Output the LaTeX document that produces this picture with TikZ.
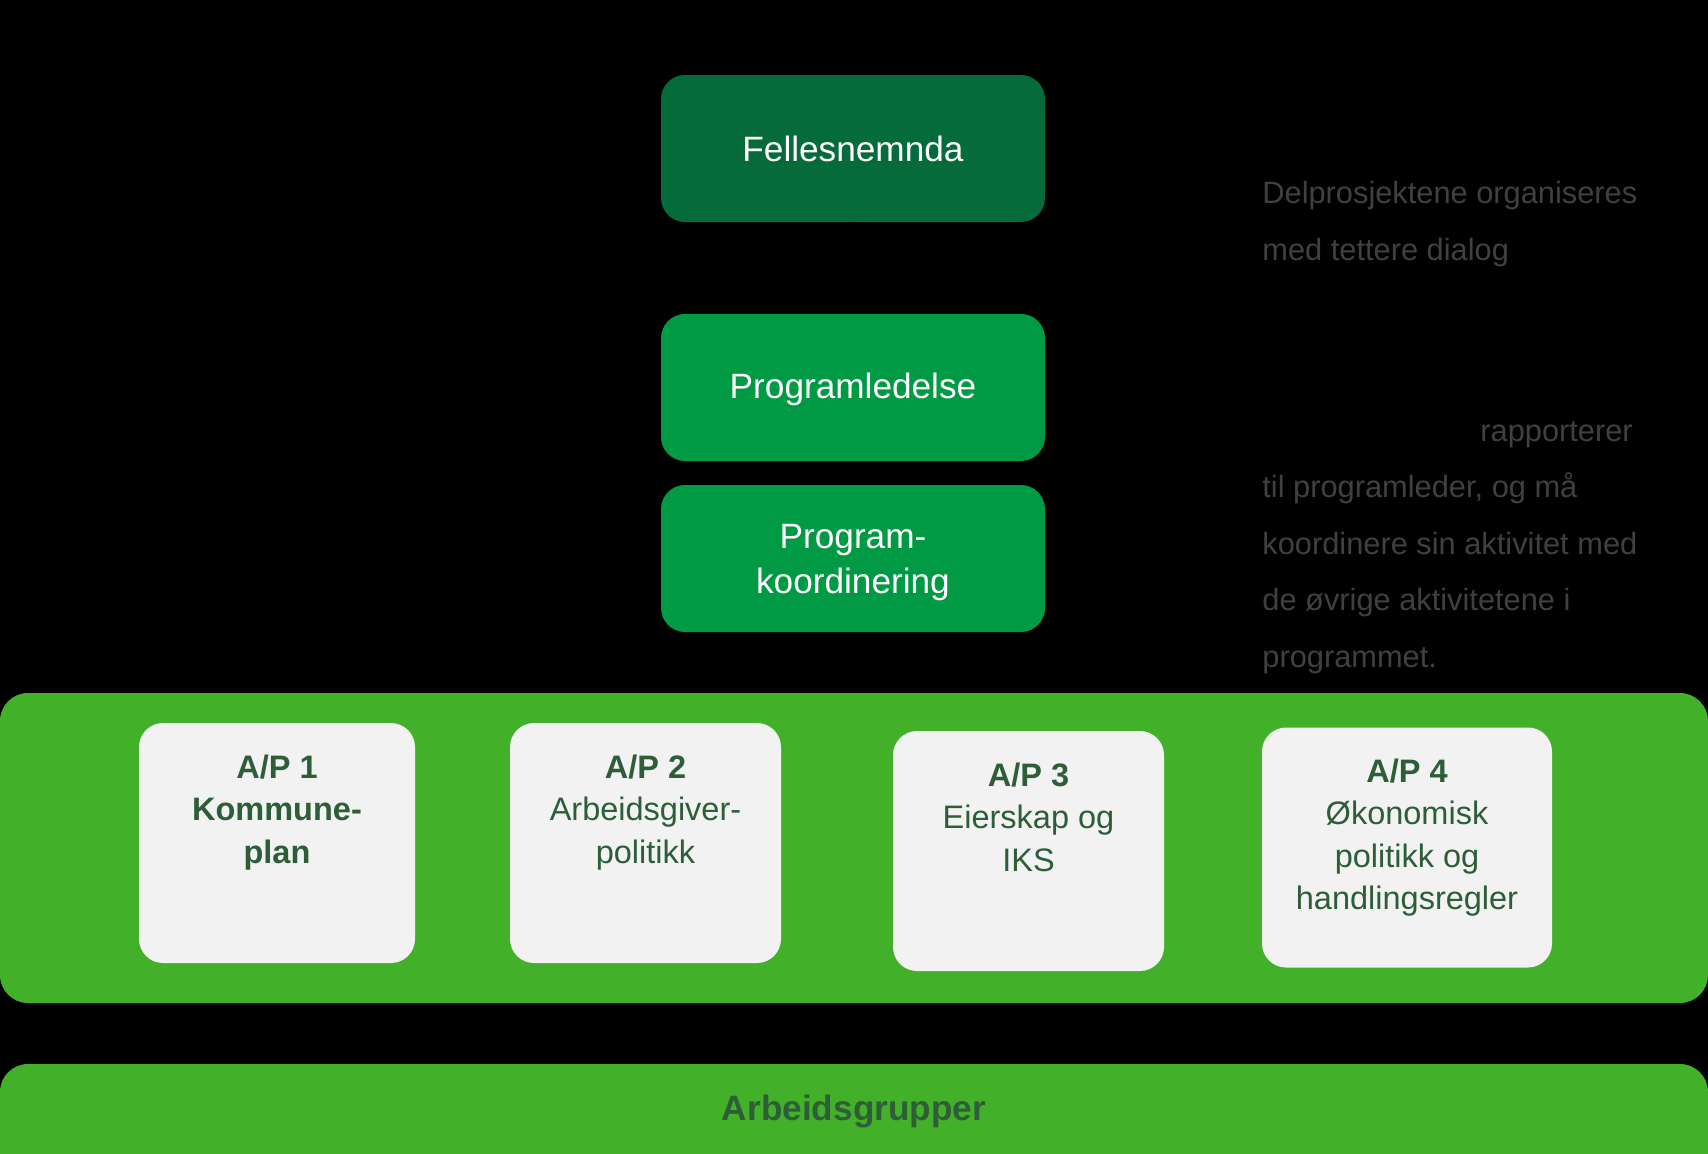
\documentclass[tikz,border=0pt]{standalone}
\usepackage{fontspec}
\setmainfont{Liberation Sans}
\usetikzlibrary{positioning}

\definecolor{boardgreen}{HTML}{056B3A}
\definecolor{leadgreen}{HTML}{009A44}
\definecolor{panelgreen}{HTML}{43B02A}
\definecolor{cardgray}{HTML}{F2F2F2}
\definecolor{cardtext}{HTML}{2D5E38}
\definecolor{notegray}{HTML}{404040}

\begin{document}
\begin{tikzpicture}[x=0.5pt,y=-0.5pt,
  topbox/.style={rounded corners=12pt, minimum width=192pt, minimum height=73.5pt,
    text=white, align=center, font=\fontsize{17.6}{22.4}\selectfont},
  apbox/.style={fill=cardgray, rounded corners=12pt, minimum height=120pt},
  aptext/.style={text=cardtext, align=center, inner sep=0pt,
    font=\fontsize{16.25}{21.25}\selectfont},
  note/.style={text=notegray, align=left, inner sep=0pt, anchor=base west,
    font=\fontsize{15.4}{28.3}\selectfont}]

% Background
\fill[black] (0,0) rectangle (1708,1153);
\clip (0,0) rectangle (1708,1153);

% Top of the organisation
\node[topbox, fill=boardgreen] (felles) at (853,148.5) {Fellesnemnda};
\node[topbox, fill=leadgreen] (ledelse) at (853,387.5) {\\[-7.5pt]Programledelse};
\node[topbox, fill=leadgreen] (koord) at (853,558.5) {\\[-6pt]Program-\\koordinering};

% Lines between the boxes (black on black)
\draw[black, line width=1pt] (felles) -- (ledelse);
\draw[black, line width=1pt] (ledelse) -- (koord);

% Notes on the right (base = last line)
\node[note] (note1) at (1262,260) {Delprosjektene organiseres\\med tettere dialog};
\node[note] (note2) at (1262,667.5) {\hspace*{109pt}rapporterer\\til programleder, og må\\koordinere sin aktivitet med\\de øvrige aktivitetene i\\programmet.};

% Panel with the delprosjekter
\fill[panelgreen, rounded corners=14pt] (0,693) rectangle (1708,1003);

\node[apbox, minimum width=138pt] (ap1) at (277,843) {};
\node[apbox, minimum width=135.5pt] (ap2) at (645.5,843) {};
\node[apbox, minimum width=135.5pt] (ap3) at (1028.5,851) {};
\node[apbox, minimum width=145pt] (ap4) at (1407,847.5) {};

\node[aptext, below=70.2pt of ap1.north, anchor=base] (ap1t) {\textbf{A/P 1}\\\textbf{Kommune-}\\\textbf{plan}};
\node[aptext, below=70.2pt of ap2.north, anchor=base] (ap2t) {\textbf{A/P 2}\\Arbeidsgiver-\\politikk};
\node[aptext, below=70.2pt of ap3.north, anchor=base] (ap3t) {\textbf{A/P 3}\\Eierskap og\\IKS};
\node[aptext, below=91.4pt of ap4.north, anchor=base] (ap4t) {\textbf{A/P 4}\\Økonomisk\\politikk og\\handlingsregler};

% Bottom bar
\fill[panelgreen, rounded corners=14pt] (0,1064) rectangle (1708,1190);
\node[text=cardtext, font=\fontsize{17.6}{22}\selectfont\bfseries] (grupper) at (854,1111) {Arbeidsgrupper};

\end{tikzpicture}
\end{document}
